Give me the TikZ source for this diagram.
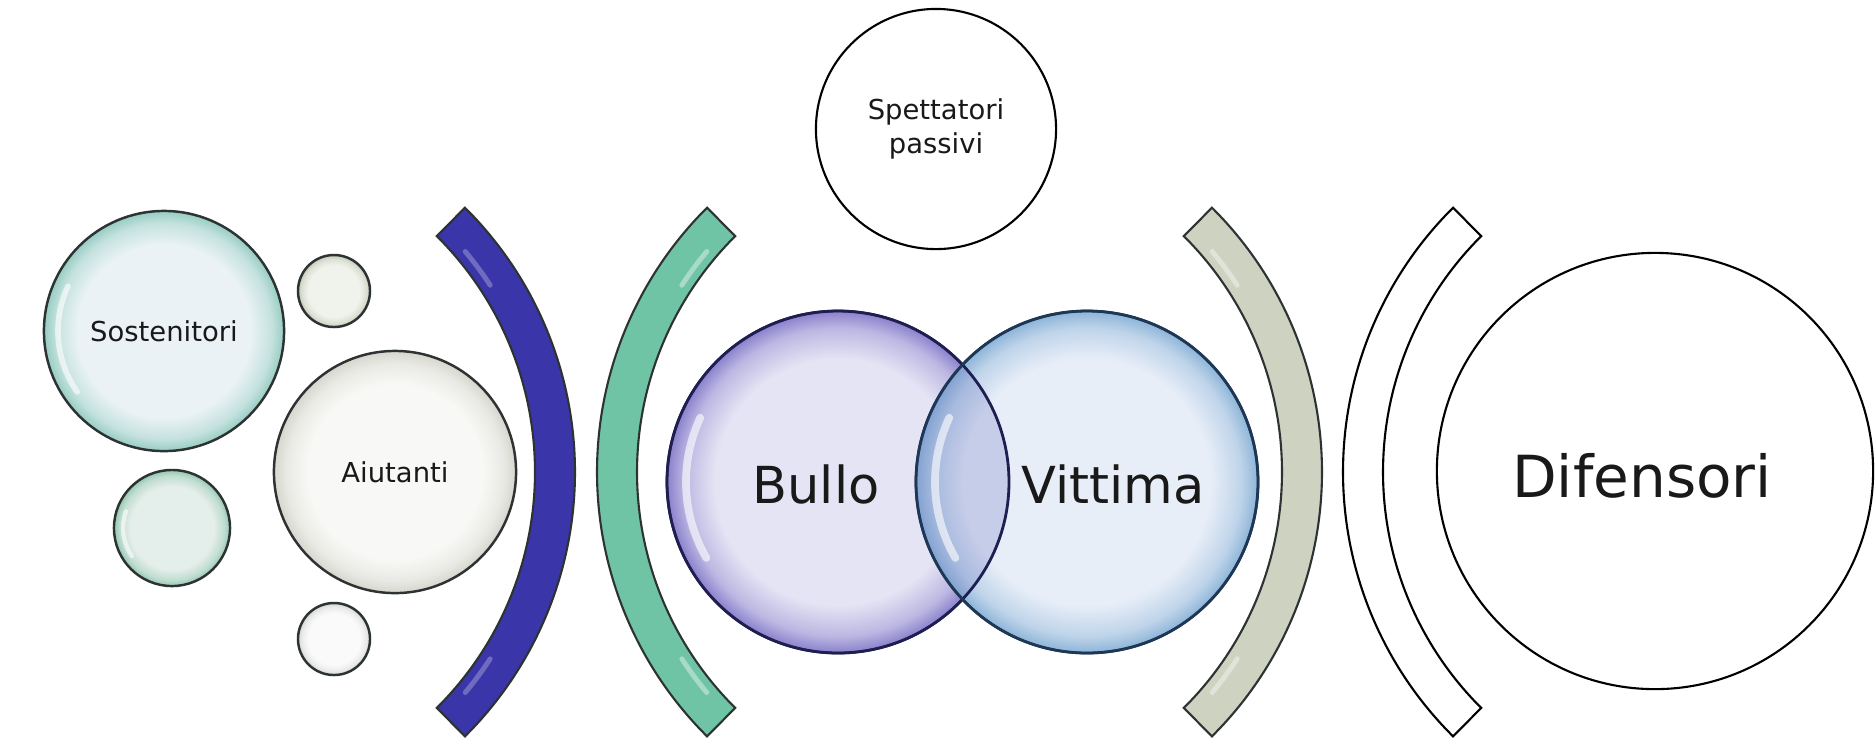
\documentclass[tikz,border=0pt]{standalone}
\usepackage{fontspec}
\setmainfont{DejaVu Sans}
\usetikzlibrary{calc}
\definecolor{sostin}{RGB}{234,242,245}
\definecolor{sostout}{RGB}{150,205,194}
\definecolor{greenin}{RGB}{228,238,234}
\definecolor{greenout}{RGB}{148,200,178}
\definecolor{gtopin}{RGB}{240,242,236}
\definecolor{gtopout}{RGB}{192,200,180}
\definecolor{aiuin}{RGB}{248,248,246}
\definecolor{aiuout}{RGB}{214,214,206}
\definecolor{botin}{RGB}{250,250,250}
\definecolor{botout}{RGB}{212,214,210}
\definecolor{bulloin}{RGB}{228,228,244}
\definecolor{bulloout}{RGB}{138,128,204}
\definecolor{vittin}{RGB}{232,238,248}
\definecolor{vittout}{RGB}{140,180,216}
\definecolor{arcblue}{RGB}{58,54,170}
\definecolor{arcteal}{RGB}{112,196,166}
\definecolor{arcgray}{RGB}{206,210,192}
\definecolor{bubline}{RGB}{45,50,50}
\definecolor{bulloline}{RGB}{30,30,80}
\definecolor{vittline}{RGB}{30,55,85}
\definecolor{lenscol}{RGB}{100,110,190}
\definecolor{txt}{RGB}{25,25,25}
\newcommand\mkbubble[3]{\pgfdeclareradialshading{#1}{\pgfpoint{0bp}{0bp}}{color(0bp)=(#2); color(18bp)=(#2); color(22.5bp)=(#2!55!#3); color(25bp)=(#3); color(50bp)=(#3)}}
\mkbubble{shsost}{sostin}{sostout}
\mkbubble{shgreen}{greenin}{greenout}
\mkbubble{shgtop}{gtopin}{gtopout}
\mkbubble{shaiu}{aiuin}{aiuout}
\mkbubble{shbot}{botin}{botout}
\mkbubble{shbullo}{bulloin}{bulloout}
\mkbubble{shvitt}{vittin}{vittout}
\begin{document}
\begin{tikzpicture}[x=0.01cm,y=-0.01cm,
  bub/.style={circle, draw=bubline, line width=0.7pt, inner sep=0pt, outer sep=0pt, text=txt},
  plain/.style={circle, draw=black, line width=0.6pt, fill=white, inner sep=0pt, outer sep=0pt, text=txt},
  smalltext/.style={font=\fontsize{7.8}{9.6}\selectfont, align=center},
  bigtext/.style={font=\fontsize{14.5}{17}\selectfont, text=txt},
  band/.style={draw=bubline, line width=0.6pt, line join=miter},
  gloss/.style={white, opacity=0.6, line width=2.2pt, line cap=round}]
\useasboundingbox (0,0) rectangle (1875,741);

% left cluster
\node[bub, shading=shsost, minimum size=2.40cm, smalltext] (sost) at (164,331) {Sostenitori};
\node[bub, shading=shgtop, minimum size=0.72cm] (stop) at (334,291) {};
\node[bub, shading=shaiu, minimum size=2.42cm, smalltext] (aiu) at (395,472) {Aiutanti};
\node[bub, shading=shgreen, minimum size=1.16cm] (sgreen) at (172,528) {};
\node[bub, shading=shbot, minimum size=0.72cm] (sbot) at (334,639) {};
\draw[gloss, line width=1.6pt] ($(sost.center)+(145:106)$) arc[start angle=145, end angle=205, radius=106];
\draw[gloss, line width=1.2pt] ($(sgreen.center)+(145:49)$) arc[start angle=145, end angle=200, radius=49];

% arcs
\begin{scope}[shift={(202.5,472)}]
  \draw[band, fill=arcblue] (-45.2:372.5) arc[start angle=-45.2, end angle=45.2, radius=372.5]
     -- (45.2:332.5) arc[start angle=45.2, end angle=-45.2, radius=332.5] -- cycle;
  \draw[arcblue!55!white, opacity=0.6, line width=1.4pt, line cap=round] (40:343) arc[start angle=40, end angle=33, radius=343];
  \draw[arcblue!55!white, opacity=0.6, line width=1.4pt, line cap=round] (-40:343) arc[start angle=-40, end angle=-33, radius=343];
\end{scope}
\begin{scope}[shift={(969.5,472)}]
  \draw[band, fill=arcteal] (134.8:372.5) arc[start angle=134.8, end angle=225.2, radius=372.5]
     -- (225.2:332.5) arc[start angle=225.2, end angle=134.8, radius=332.5] -- cycle;
  \draw[arcteal!45!white, opacity=0.7, line width=1.4pt, line cap=round] (140:343) arc[start angle=140, end angle=147, radius=343];
  \draw[arcteal!45!white, opacity=0.7, line width=1.4pt, line cap=round] (220:343) arc[start angle=220, end angle=213, radius=343];
\end{scope}
\begin{scope}[shift={(949.5,472)}]
  \draw[band, fill=arcgray] (-45.2:372.5) arc[start angle=-45.2, end angle=45.2, radius=372.5]
     -- (45.2:332.5) arc[start angle=45.2, end angle=-45.2, radius=332.5] -- cycle;
  \draw[arcgray!45!white, opacity=0.7, line width=1.4pt, line cap=round] (40:343) arc[start angle=40, end angle=33, radius=343];
  \draw[arcgray!45!white, opacity=0.7, line width=1.4pt, line cap=round] (-40:343) arc[start angle=-40, end angle=-33, radius=343];
\end{scope}
\begin{scope}[shift={(1715.5,472)}]
  \draw[band, draw=black, fill=white] (134.8:372.5) arc[start angle=134.8, end angle=225.2, radius=372.5]
     -- (225.2:332.5) arc[start angle=225.2, end angle=134.8, radius=332.5] -- cycle;
\end{scope}

% Bullo and Vittima
\node[bub, draw=bulloline, shading=shbullo, minimum size=3.42cm] (bullo) at (838,482) {};
\node[bub, draw=vittline, shading=shvitt, minimum size=3.42cm] (vitt) at (1087,482) {};
\begin{scope}
  \clip (bullo.center) circle[radius=171];
  \fill[lenscol, opacity=0.25] (vitt.center) circle[radius=171];
\end{scope}
\draw[gloss] ($(bullo.center)+(150:152)$) arc[start angle=150, end angle=205, radius=152];
\draw[gloss] ($(vitt.center)+(150:152)$) arc[start angle=150, end angle=205, radius=152];
\draw[bulloline, line width=0.8pt] (bullo.center) circle[radius=171];
\draw[vittline, line width=0.8pt] (vitt.center) circle[radius=171];
\node[bigtext] (bullotxt) at (816,484) {Bullo};
\node[bigtext] (vitttxt) at (1113,484) {Vittima};

% top and right circles
\node[plain, minimum size=2.40cm, smalltext] (spett) at (936,129) {Spettatori\\passivi};
\node[plain, minimum size=4.36cm] (dif) at (1655,471) {};
\node[bigtext, font=\fontsize{16.5}{19}\selectfont] (diftxt) at (1642,476) {Difensori};
\end{tikzpicture}
\end{document}
